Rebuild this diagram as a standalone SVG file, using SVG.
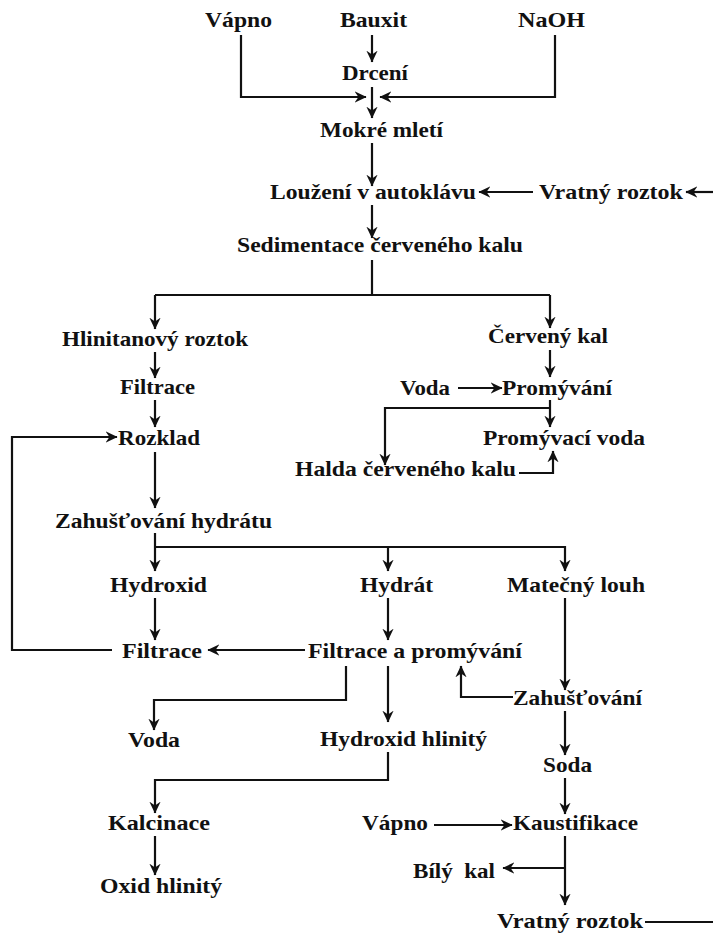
<svg xmlns="http://www.w3.org/2000/svg" width="713" height="936" viewBox="0 0 713 936">
<defs>
<style>
text{font-family:"Liberation Serif","Times New Roman",serif;font-weight:bold;font-size:21px;fill:#111;white-space:pre}
.c path{fill:none;stroke:#111;stroke-width:2.2}
</style>
<marker id="ah" viewBox="0 0 10 10" refX="9.5" refY="5" markerWidth="12" markerHeight="12" markerUnits="userSpaceOnUse" orient="auto">
<path d="M0,0.3 L10,5 L0,9.7 L3.2,5 z" fill="#111"/>
</marker>
</defs>
<rect width="713" height="936" fill="#fff"/>
<g id="n-vapno1"><text x="205" y="27" textLength="67" lengthAdjust="spacingAndGlyphs">Vápno</text></g>
<g id="n-bauxit"><text x="340" y="27" textLength="67" lengthAdjust="spacingAndGlyphs">Bauxit</text></g>
<g id="n-naoh"><text x="518" y="27" textLength="67" lengthAdjust="spacingAndGlyphs">NaOH</text></g>
<g id="n-drceni"><text x="342" y="80" textLength="66" lengthAdjust="spacingAndGlyphs">Drcení</text></g>
<g id="n-mokre"><text x="320" y="137" textLength="123" lengthAdjust="spacingAndGlyphs">Mokré mletí</text></g>
<g id="n-louzeni"><text x="270" y="199" textLength="206" lengthAdjust="spacingAndGlyphs">Loužení v autoklávu</text></g>
<g id="n-vratny1"><text x="539" y="199" textLength="144" lengthAdjust="spacingAndGlyphs">Vratný roztok</text></g>
<g id="n-sediment"><text x="237" y="252" textLength="286" lengthAdjust="spacingAndGlyphs">Sedimentace červeného kalu</text></g>
<g id="n-hlinitan"><text x="62" y="346" textLength="186" lengthAdjust="spacingAndGlyphs">Hlinitanový roztok</text></g>
<g id="n-filtrace1"><text x="120" y="394" textLength="75" lengthAdjust="spacingAndGlyphs">Filtrace</text></g>
<g id="n-rozklad"><text x="118" y="445" textLength="82" lengthAdjust="spacingAndGlyphs">Rozklad</text></g>
<g id="n-zahust1"><text x="55" y="528" textLength="217" lengthAdjust="spacingAndGlyphs">Zahušťování hydrátu</text></g>
<g id="n-hydroxid"><text x="110" y="592" textLength="97" lengthAdjust="spacingAndGlyphs">Hydroxid</text></g>
<g id="n-hydrat"><text x="360" y="592" textLength="73" lengthAdjust="spacingAndGlyphs">Hydrát</text></g>
<g id="n-matecny"><text x="507" y="592" textLength="138" lengthAdjust="spacingAndGlyphs">Matečný louh</text></g>
<g id="n-filtrace2"><text x="122" y="658" textLength="80" lengthAdjust="spacingAndGlyphs">Filtrace</text></g>
<g id="n-fap"><text x="308" y="658" textLength="214" lengthAdjust="spacingAndGlyphs">Filtrace a promývání</text></g>
<g id="n-zahust2"><text x="513" y="705" textLength="129" lengthAdjust="spacingAndGlyphs">Zahušťování</text></g>
<g id="n-voda2"><text x="128" y="747" textLength="52" lengthAdjust="spacingAndGlyphs">Voda</text></g>
<g id="n-hydroxidhl"><text x="320" y="746" textLength="167" lengthAdjust="spacingAndGlyphs">Hydroxid hlinitý</text></g>
<g id="n-kalcinace"><text x="108" y="830" textLength="102" lengthAdjust="spacingAndGlyphs">Kalcinace</text></g>
<g id="n-oxid"><text x="100" y="893" textLength="122" lengthAdjust="spacingAndGlyphs">Oxid hlinitý</text></g>
<g id="n-soda"><text x="543" y="772" textLength="49" lengthAdjust="spacingAndGlyphs">Soda</text></g>
<g id="n-vapno2"><text x="362" y="830" textLength="66" lengthAdjust="spacingAndGlyphs">Vápno</text></g>
<g id="n-kaust"><text x="513" y="830" textLength="125" lengthAdjust="spacingAndGlyphs">Kaustifikace</text></g>
<g id="n-bily"><text x="413" y="878" textLength="82" lengthAdjust="spacingAndGlyphs">Bílý  kal</text></g>
<g id="n-vratny2"><text x="497" y="928" textLength="146" lengthAdjust="spacingAndGlyphs">Vratný roztok</text></g>
<g id="n-cerveny"><text x="488" y="343" textLength="120" lengthAdjust="spacingAndGlyphs">Červený kal</text></g>
<g id="n-voda1"><text x="400" y="395" textLength="50" lengthAdjust="spacingAndGlyphs">Voda</text></g>
<g id="n-promyvani"><text x="502" y="395" textLength="110" lengthAdjust="spacingAndGlyphs">Promývání</text></g>
<g id="n-promyvaci"><text x="483" y="445" textLength="162" lengthAdjust="spacingAndGlyphs">Promývací voda</text></g>
<g id="n-halda"><text x="295" y="476" textLength="221" lengthAdjust="spacingAndGlyphs">Halda červeného kalu</text></g>
<g id="connectors" class="c">
<path d="M372,35 V62" marker-end="url(#ah)"/>
<path d="M241,35 V97 H366" marker-end="url(#ah)"/>
<path d="M555,35 V97 H380" marker-end="url(#ah)"/>
<path d="M372,87 V118" marker-end="url(#ah)"/>
<path d="M372,143 V186" marker-end="url(#ah)"/>
<path d="M533,192 H479" marker-end="url(#ah)"/>
<path d="M713,192 H686" marker-end="url(#ah)"/>
<path d="M372,205 V238" marker-end="url(#ah)"/>
<path d="M372,260 V295"/>
<path d="M155,295 H550"/>
<path d="M155,295 V329" marker-end="url(#ah)"/>
<path d="M550,295 V328" marker-end="url(#ah)"/>
<path d="M155,352 V378" marker-end="url(#ah)"/>
<path d="M155,400 V427" marker-end="url(#ah)"/>
<path d="M112,650 H12 V437 H117" marker-end="url(#ah)"/>
<path d="M155,452 V508" marker-end="url(#ah)"/>
<path d="M155,533 V571" marker-end="url(#ah)"/>
<path d="M155,547 H565 V571" marker-end="url(#ah)"/>
<path d="M388,547 V571" marker-end="url(#ah)"/>
<path d="M155,598 V640" marker-end="url(#ah)"/>
<path d="M305,650 H208" marker-end="url(#ah)"/>
<path d="M388,598 V640" marker-end="url(#ah)"/>
<path d="M565,598 V690" marker-end="url(#ah)"/>
<path d="M513,697 H461 V666" marker-end="url(#ah)"/>
<path d="M346,666 V700 H154 V730" marker-end="url(#ah)"/>
<path d="M388,666 V722" marker-end="url(#ah)"/>
<path d="M388,752 V780 H155 V813" marker-end="url(#ah)"/>
<path d="M155,836 V875" marker-end="url(#ah)"/>
<path d="M565,711 V755" marker-end="url(#ah)"/>
<path d="M565,778 V814" marker-end="url(#ah)"/>
<path d="M434,825 H512" marker-end="url(#ah)"/>
<path d="M565,836 V905" marker-end="url(#ah)"/>
<path d="M565,868 H503" marker-end="url(#ah)"/>
<path d="M645,922 H713"/>
<path d="M550,350 V377" marker-end="url(#ah)"/>
<path d="M458,388 H502" marker-end="url(#ah)"/>
<path d="M550,400 V427" marker-end="url(#ah)"/>
<path d="M550,408 H385 V465" marker-end="url(#ah)"/>
<path d="M519,473 H553 V451" marker-end="url(#ah)"/>
</g>
</svg>
